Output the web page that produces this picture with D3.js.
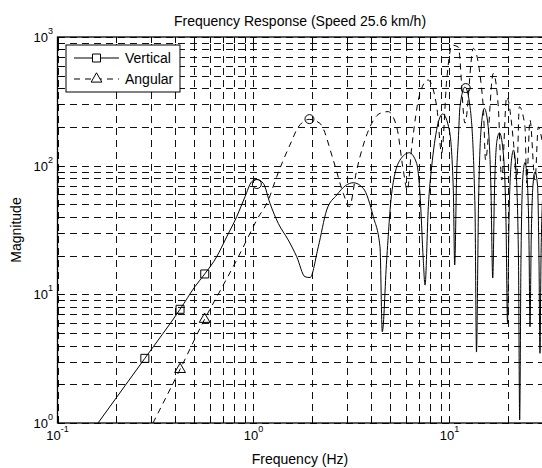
<!DOCTYPE html>
<html>
<head>
<meta charset="utf-8">
<script src="https://cdn.jsdelivr.net/npm/d3@7"></script>
<style>
  body { margin: 0; background: #fff; }
  text { font-family: "Liberation Sans", Arial, sans-serif; fill: #000; }
</style>
</head>
<body>
<div id="chart"></div>
<script>
// Data

var vertF = [0.161, 0.279, 0.422, 0.503, 0.564, 0.649, 0.730, 0.821, 0.905, 0.979, 1.038, 1.122, 1.214, 1.338, 1.505, 1.662, 1.831, 1.942,
  2.141, 2.363, 2.658, 2.95, 3.229, 3.633, 4.086, 4.42, 4.54, 4.78, 5.07, 5.59, 6.24, 6.80, 7.07, 7.35, 7.50, 7.80, 8.11, 9.23,
  9.98, 10.46, 10.63, 10.88, 11.09, 11.31, 12.0, 12.73, 13.49, 13.73, 14.06, 14.48, 15.05, 15.72, 16.28, 16.62, 16.97, 17.48, 17.99,
  18.75, 19.42, 19.77, 20.12, 20.72, 21.21, 21.84, 22.49, 22.81, 23.16, 23.71, 24.28, 25.0, 25.44, 25.75, 26.12, 26.67, 27.31,
  28.12, 28.62, 28.95, 29.3, 29.82];
var vertM = [1.0, 3.18, 7.65, 11.5, 14.4, 19.6, 28.0, 40.1, 57.3, 75, 78.3, 72.9, 50.9, 35.6, 26.4, 19.6, 13.7, 13.5,
  23.4, 45.2, 59.1, 70, 73.7, 66.6, 40.1, 23.4, 5.12, 18.5, 60.9, 110.5, 126, 104.2, 60.9, 18.5, 11.8, 48, 98, 252,
  189, 64.6, 16.9, 87, 158, 287, 408, 287, 48, 3.56, 48.5, 189, 279, 207, 64.6, 13.4, 64.6, 158, 180,
  132, 37.8, 6.02, 37.8, 110.5, 132, 92.4, 18.5, 1.055, 18.5, 84.5, 105.7, 70.7, 26.4, 5.6, 26.4, 70.7, 89.7,
  70.7, 18.5, 3.48, 18.5, 54];

var angF = [0.307, 0.422, 0.563, 0.701, 0.821, 0.941, 1.038, 1.19, 1.313, 1.419, 1.55, 1.693, 1.927, 2.184, 2.554, 2.872, 3.082, 3.362, 3.93,
  4.42, 4.86, 5.38, 5.81, 6.09, 6.42, 7.07, 7.77, 8.61, 9.12, 9.68, 10.3, 11.09, 12.0, 13.23, 14.88, 15.27, 16.73, 17.74,
  18.47, 19.58, 21.16, 22.03, 22.71, 24.28, 24.77, 25.75, 27.31, 28.39, 29.65];
var angM = [1.0, 2.61, 6.4, 11.8, 18.5, 28.0, 37.8, 54, 82, 110.5, 150, 200, 229, 213, 110.5, 60.9, 48, 92.4, 200,
  255, 263, 200, 92.4, 64.6, 140, 365, 463, 287, 125, 463, 865, 835, 214, 815, 287, 110.5, 521, 287,
  77.3, 343, 158, 77.3, 287, 200, 73.2, 226, 77.3, 200, 158];

var squareF = [0.279, 0.422, 0.564];
var squareM = [3.18, 7.65, 14.4];
var triF = [0.422, 0.563];
var triM = [2.61, 6.4];
var peakF = [1.04, 1.93, 12.1];
var peakM = [72, 230, 401];

var legendLabels = ['Vertical', 'Angular'];

// Dimensions

var width = 542, height = 468;
var plotL = 57.5, plotT = 37, plotB = 423, plotR = 543;

var svg = d3.select('#chart').append('svg')
  .attr('width', width)
  .attr('height', height);

var x = d3.scaleLog().domain([0.1, 30]).range([plotL, plotR]);
var y = d3.scaleLog().domain([1, 1000]).range([plotB, plotT]);

function zip(a, b) { return a.map(function(v, i) { return [v, b[i]]; }); }

// Grid

var grid = svg.append('g')
  .attr('stroke', '#111')
  .attr('stroke-width', 1)
  .attr('stroke-dasharray', '7,5')
  .attr('shape-rendering', 'crispEdges');

grid.selectAll('.gx')
  .data(x.ticks())
  .enter().append('line')
  .attr('x1', function(d) { return Math.round(x(d)) + 0.5; })
  .attr('x2', function(d) { return Math.round(x(d)) + 0.5; })
  .attr('y1', plotB)
  .attr('y2', plotT);

grid.selectAll('.gy')
  .data(y.ticks())
  .enter().append('line')
  .attr('y1', function(d) { return Math.round(y(d)) + 0.5; })
  .attr('y2', function(d) { return Math.round(y(d)) + 0.5; })
  .attr('x1', plotL)
  .attr('x2', plotR);

// Inner ticks

var ticks = svg.append('g').attr('stroke', '#000').attr('shape-rendering', 'crispEdges');
x.ticks().forEach(function(d) {
  var px = Math.round(x(d)) + 0.5;
  ticks.append('line').attr('x1', px).attr('x2', px).attr('y1', plotB).attr('y2', plotB - 6);
  ticks.append('line').attr('x1', px).attr('x2', px).attr('y1', plotT).attr('y2', plotT + 6);
});
y.ticks().forEach(function(d) {
  var py = Math.round(y(d)) + 0.5;
  ticks.append('line').attr('y1', py).attr('y2', py).attr('x1', plotL).attr('x2', plotL + 6);
});

// Curves

svg.append('clipPath').attr('id', 'plotclip')
  .append('rect').attr('x', plotL).attr('y', plotT).attr('width', plotR - plotL).attr('height', plotB - plotT);

var line = d3.line()
  .x(function(d) { return x(d[0]); })
  .y(function(d) { return y(d[1]); })
  .curve(d3.curveMonotoneX);

var plot = svg.append('g').attr('clip-path', 'url(#plotclip)');

plot.append('path')
  .attr('d', line(zip(vertF, vertM)))
  .attr('fill', 'none')
  .attr('stroke', '#000')
  .attr('stroke-width', 1);

plot.append('path')
  .attr('d', line(zip(angF, angM)))
  .attr('fill', 'none')
  .attr('stroke', '#000')
  .attr('stroke-width', 1)
  .attr('stroke-dasharray', '6,5');

// Markers

var sq = d3.symbol().type(d3.symbolSquare).size(64);
var tri = d3.symbol().type(d3.symbolTriangle).size(50);

plot.selectAll('.sq')
  .data(zip(squareF, squareM))
  .enter().append('path')
  .attr('d', sq())
  .attr('transform', function(d) { return 'translate(' + x(d[0]) + ',' + y(d[1]) + ')'; })
  .attr('fill', 'none').attr('stroke', '#000');

plot.selectAll('.tri')
  .data(zip(triF, triM))
  .enter().append('path')
  .attr('d', tri())
  .attr('transform', function(d) { return 'translate(' + x(d[0]) + ',' + y(d[1]) + ')'; })
  .attr('fill', 'none').attr('stroke', '#000');

plot.selectAll('.pk')
  .data(zip(peakF, peakM))
  .enter().append('circle')
  .attr('cx', function(d) { return x(d[0]); })
  .attr('cy', function(d) { return y(d[1]); })
  .attr('r', 4.5)
  .attr('fill', 'none').attr('stroke', '#000');

// Frame

svg.append('rect')
  .attr('x', plotL).attr('y', plotT)
  .attr('width', plotR - plotL).attr('height', plotB - plotT)
  .attr('fill', 'none').attr('stroke', '#000').attr('stroke-width', 1.3);

// Tick labels

[0.1, 1, 10].forEach(function(d) {
  var t = svg.append('text')
    .attr('x', x(d))
    .attr('y', 440)
    .attr('text-anchor', 'middle')
    .style('font-size', '13px');
  t.append('tspan').text('10');
  t.append('tspan').attr('dy', -8).style('font-size', '9px').text(Math.round(Math.log10(d)));
});

[1, 10, 100, 1000].forEach(function(d) {
  var t = svg.append('text')
    .attr('x', 53)
    .attr('y', y(d) + 5)
    .attr('text-anchor', 'end')
    .style('font-size', '13px');
  t.append('tspan').text('10');
  t.append('tspan').attr('dy', -8).style('font-size', '9px').text(Math.round(Math.log10(d)));
});

// Titles

svg.append('text')
  .attr('x', 300).attr('y', 26)
  .attr('text-anchor', 'middle')
  .style('font-size', '14px')
  .text('Frequency Response (Speed 25.6 km/h)');

svg.append('text')
  .attr('x', 300).attr('y', 464)
  .attr('text-anchor', 'middle')
  .style('font-size', '14px')
  .text('Frequency (Hz)');

svg.append('text')
  .attr('transform', 'translate(21,230) rotate(-90)')
  .attr('text-anchor', 'middle')
  .style('font-size', '14px')
  .text('Magnitude');

// Legend

var legend = svg.append('g');
legend.append('rect')
  .attr('x', 66).attr('y', 45).attr('width', 114).attr('height', 47)
  .attr('fill', '#fff').attr('stroke', '#000');

legendLabels.forEach(function(label, i) {
  var ly = 58 + i * 21;
  legend.append('line')
    .attr('x1', 74).attr('x2', 119).attr('y1', ly).attr('y2', ly)
    .attr('stroke', '#000')
    .attr('stroke-dasharray', i === 1 ? '6,5' : null);
  legend.append('path')
    .attr('d', i === 0 ? sq() : tri())
    .attr('transform', 'translate(96.5,' + ly + ')')
    .attr('fill', '#fff').attr('stroke', '#000');
  legend.append('text')
    .attr('x', 125).attr('y', ly + 5)
    .style('font-size', '14px')
    .text(label);
});
</script>
</body>
</html>
